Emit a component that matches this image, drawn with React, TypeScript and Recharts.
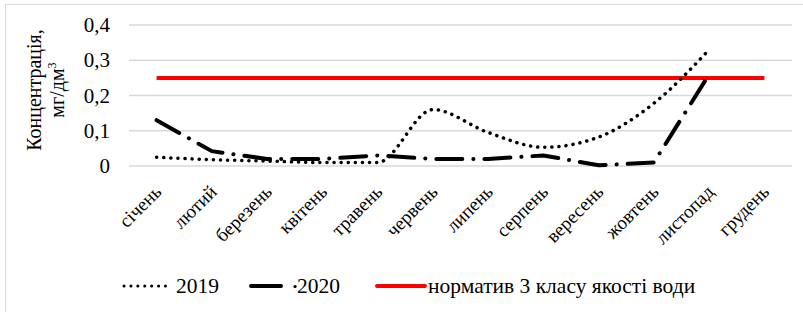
import React from 'react';
import { LineChart, Line, XAxis, YAxis, CartesianGrid } from 'recharts';

const months = ['січень', 'лютий', 'березень', 'квітень', 'травень', 'червень', 'липень', 'серпень', 'вересень', 'жовтень', 'листопад', 'грудень'];
const y2019 = [0.025, 0.018, 0.014, 0.01, 0.01, 0.16, 0.095, 0.053, 0.082, 0.178, 0.33, null];
const y2020 = [0.13, 0.042, 0.02, 0.02, 0.03, 0.02, 0.02, 0.03, 0.002, 0.01, 0.26, null];
const norm = [0.25, 0.25, 0.25, 0.25, 0.25, 0.25, 0.25, 0.25, 0.25, 0.25, 0.25, 0.25];
const yTicks = [0, 0.1, 0.2, 0.3, 0.4];

const data = months.map((m, i) => ({ m, a: y2019[i], b: y2020[i], n: norm[i] }));

const font = 'Liberation Serif';

const renderXTick = ({ x, y, payload }: any) => (
  <text transform={`translate(${x + 6}, ${y + 27}) rotate(-45)`} textAnchor="end"
    fontFamily={font} fontSize={19} fill="#000">{payload.value}</text>
);

const renderYTick = ({ y, payload }: any) => (
  <text x={110} y={y + 7} textAnchor="end" fontFamily={font} fontSize={21} fill="#000">
    {payload.value === 0 ? '0' : payload.value.toFixed(1).replace('.', ',')}
  </text>
);

function Legend() {
  return (
    <svg width={803} height={30} style={{ position: 'absolute', left: 0, top: 270 }}>
      <g fontFamily={font} fontSize={21.5} fill="#000">
        <line x1={124} y1={16} x2={166} y2={16} stroke="#000" strokeWidth={3} strokeDasharray="0.1 6.8" strokeLinecap="round" />
        <text x={176} y={23}>2019</text>
        <line x1={251} y1={16} x2={281} y2={16} stroke="#000" strokeWidth={4} strokeLinecap="round" />
        <line x1={295} y1={16.5} x2={295.1} y2={16.5} stroke="#000" strokeWidth={3} strokeLinecap="round" />
        <text x={297} y={23}>2020</text>
        <line x1={377} y1={16} x2={425} y2={16} stroke="#ff0000" strokeWidth={4} strokeLinecap="round" />
        <text x={428} y={23}>норматив 3 класу якості води</text>
      </g>
    </svg>
  );
}

export default function App() {
  return (
    <div style={{ position: 'absolute', left: 0, top: 0, width: 803, height: 312, background: '#fff', overflow: 'hidden' }}>
      <div style={{ position: 'absolute', left: 5, top: 4, width: 820, height: 330, borderLeft: '1px solid #d9d9d9', borderTop: '1px solid #d9d9d9' }} />
      <LineChart width={803} height={312} data={data} margin={{ top: 25, right: 11, left: 0, bottom: 46 }}
        style={{ position: 'absolute', left: 0, top: 0 }}>
        <CartesianGrid vertical={false} stroke="#d9d9d9" strokeWidth={1.5} />
        <XAxis dataKey="m" height={100} axisLine={false} tickLine={false} tickSize={0} tickMargin={0} tick={renderXTick}
          interval={0} padding={{ left: 27.6, right: 27.6 }} />
        <YAxis width={129} domain={[0, 0.4]} ticks={yTicks} axisLine={false} tickLine={false} tick={renderYTick} />
        <Line dataKey="n" stroke="#ff0000" strokeWidth={4} dot={false} isAnimationActive={false} />
        <Line dataKey="a" type="monotone" stroke="#000" strokeWidth={3.5} strokeDasharray="0.1 7" strokeLinecap="round" dot={false} isAnimationActive={false} />
        <Line dataKey="b" stroke="#000" strokeWidth={4} strokeDasharray="26 11 0.1 11" strokeLinecap="round" dot={false} isAnimationActive={false} />
      </LineChart>
      <svg width={100} height={200} style={{ position: 'absolute', left: 0, top: 0 }}>
        <g fontFamily={font} fontSize={20} fill="#000" textAnchor="middle">
          <text transform="translate(41, 90) rotate(-90)">Концентрація,</text>
          <text transform="translate(64, 90) rotate(-90)">мг/дм<tspan fontSize={12} dy={-8}>3</tspan></text>
        </g>
      </svg>
      <Legend />
    </div>
  );
}
